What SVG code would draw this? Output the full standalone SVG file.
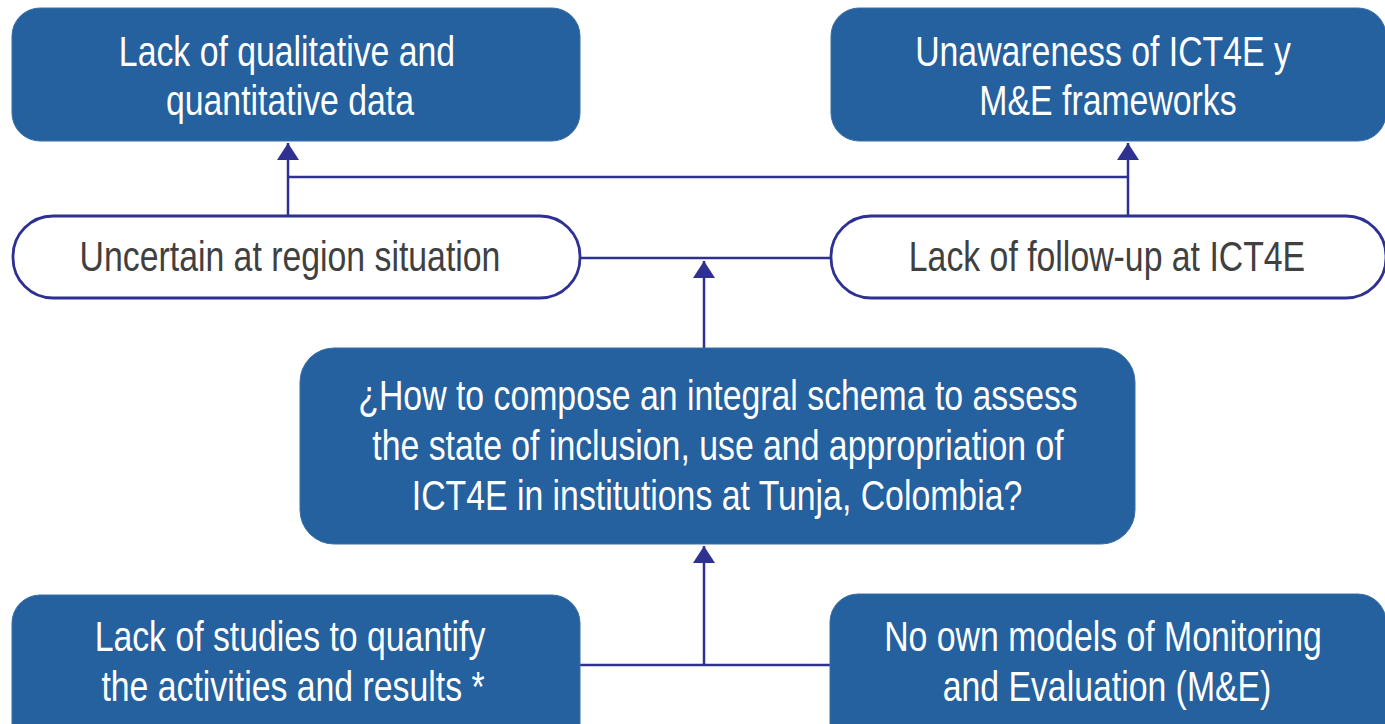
<svg xmlns="http://www.w3.org/2000/svg" width="1385" height="724" viewBox="0 0 1385 724">
  <style>
    .blue { fill: #25609f; stroke: #3a6ea8; stroke-width: 1; }
    .white { fill: #ffffff; stroke: #2e3192; stroke-width: 2.8; }
    .t { font-family: "Liberation Sans", Arial, sans-serif; font-size: 42px; text-anchor: middle; }
    .tw { fill: #ffffff; }
    .tg { fill: #404040; }
    .conn { fill: none; stroke: #2e3192; stroke-width: 2.5; }
  </style>
  <defs>
    <marker id="arrow" markerUnits="userSpaceOnUse" markerWidth="18" markerHeight="22" viewBox="0 0 18 22" refX="17" refY="11" orient="auto">
      <path d="M0,0 L17,11 L0,22 z" fill="#2e3192"/>
    </marker>
  </defs>
  <rect width="1385" height="724" fill="#ffffff"/>

  <g id="connectors">
    <path class="conn" d="M288,216 V143" marker-end="url(#arrow)"/>
    <path class="conn" d="M1128,216 V143" marker-end="url(#arrow)"/>
    <path class="conn" d="M288,177 H1128"/>
    <path class="conn" d="M580,258 H831"/>
    <path class="conn" d="M704,348 V261" marker-end="url(#arrow)"/>
    <path class="conn" d="M704,665 V546" marker-end="url(#arrow)"/>
    <path class="conn" d="M580,665 H830"/>
  </g>

  <g id="node-qual-data">
    <rect class="blue" x="12" y="8" width="568" height="133" rx="28" ry="28"/>
    <text class="t tw" transform="translate(287,66) scale(0.805,1)">Lack of qualitative and</text>
    <text class="t tw" transform="translate(290,115) scale(0.805,1)">quantitative data</text>
  </g>

  <g id="node-unawareness">
    <rect class="blue" x="831" y="8" width="555" height="133" rx="28" ry="28"/>
    <text class="t tw" transform="translate(1103,66) scale(0.805,1)">Unawareness of ICT4E y</text>
    <text class="t tw" transform="translate(1108,115) scale(0.805,1)">M&amp;E frameworks</text>
  </g>

  <g id="node-uncertain">
    <rect class="white" x="13" y="216" width="567" height="82" rx="40" ry="40"/>
    <text class="t tg" transform="translate(290,271) scale(0.805,1)">Uncertain at region situation</text>
  </g>

  <g id="node-followup">
    <rect class="white" x="831" y="216" width="555" height="82" rx="40" ry="40"/>
    <text class="t tg" transform="translate(1107,271) scale(0.805,1)">Lack of follow-up at ICT4E</text>
  </g>

  <g id="node-question">
    <rect class="blue" x="300" y="348" width="835" height="196" rx="34" ry="34"/>
    <text class="t tw" transform="translate(718,410) scale(0.805,1)">¿How to compose an integral schema to assess</text>
    <text class="t tw" transform="translate(718,460) scale(0.805,1)">the state of inclusion, use and appropriation of</text>
    <text class="t tw" transform="translate(717,510) scale(0.805,1)">ICT4E in institutions at Tunja, Colombia?</text>
  </g>

  <g id="node-studies">
    <rect class="blue" x="12" y="595" width="568" height="160" rx="28" ry="28"/>
    <text class="t tw" transform="translate(290,651) scale(0.805,1)">Lack of studies to quantify</text>
    <text class="t tw" transform="translate(293,701) scale(0.805,1)">the activities and results *</text>
  </g>

  <g id="node-models">
    <rect class="blue" x="830" y="594" width="556" height="160" rx="28" ry="28"/>
    <text class="t tw" transform="translate(1103,651) scale(0.805,1)">No own models of Monitoring</text>
    <text class="t tw" transform="translate(1107,701) scale(0.805,1)">and Evaluation (M&amp;E)</text>
  </g>
</svg>
